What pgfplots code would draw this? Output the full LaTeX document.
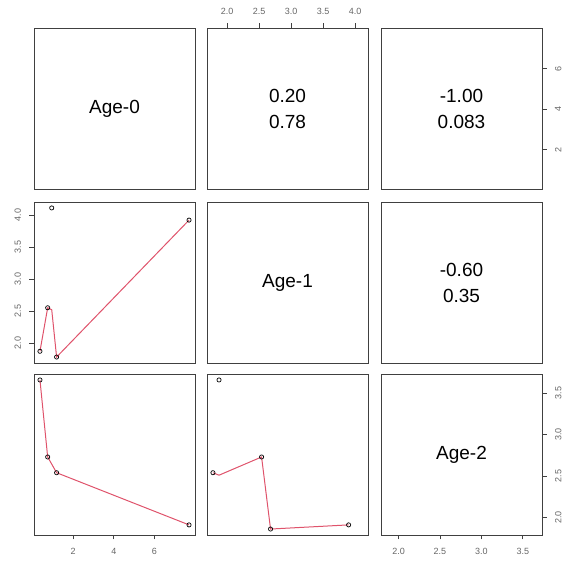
\documentclass[border=0pt]{standalone}
\usepackage{pgfplots}
\pgfplotsset{compat=1.18}
\usepackage{fontspec}
\setmainfont{Liberation Sans}
\definecolor{smooth}{HTML}{DF536B}
\tikzset{
  big/.style={font=\fontsize{19}{26}\selectfont, align=center},
  onedec/.style={/pgf/number format/fixed, /pgf/number format/fixed zerofill, /pgf/number format/precision=1},
}
\pgfplotsset{
  panel/.style={
    width=161pt, height=161pt, scale only axis,
    axis line style={black!75, line width=0.9pt},
    xtick=\empty, ytick=\empty,
    tick align=outside, major tick length=4.5pt,
    tick style={black!75, line width=0.8pt},
    tick label style={font=\fontsize{9}{10}\selectfont, text=black!60},
    xticklabel shift=5pt, yticklabel shift=5pt,
    /pgf/number format/assume math mode=true,
    anchor=south west, clip=true,
  },
  agezero x/.style={xmin=0.066, xmax=8.004},
  agezero y/.style={ymin=0.066, ymax=8.004},
  ageone x/.style={xmin=1.687, xmax=4.203},
  ageone y/.style={ymin=1.687, ymax=4.203},
  agetwo x/.style={xmin=1.788, xmax=3.732},
  agetwo y/.style={ymin=1.788, ymax=3.732},
  pts/.style={only marks, mark=o, mark size=2.1pt, mark options={black, line width=0.7pt}},
  sm/.style={no marks, color=smooth, line width=1pt},
}
\begin{document}
\begin{tikzpicture}
\useasboundingbox (0,0) rectangle (566pt,565pt);
% Row 1
\begin{axis}[panel, at={(34pt,376pt)}, agezero x, agezero y]
  \node[big] at (rel axis cs:0.5,0.5) {Age-0};
\end{axis}
\begin{axis}[panel, at={(207pt,376pt)}, ageone x, agezero y,
  xtick={2,2.5,3,3.5,4}, xtick pos=upper, xticklabel pos=upper,
  xticklabel style={onedec}]
  \node[big] at (rel axis cs:0.5,0.5) {0.20\\0.78};
\end{axis}
\begin{axis}[panel, at={(381pt,376pt)}, agetwo x, agezero y,
  ytick={2,4,6}, ytick pos=right, yticklabel pos=right,
  yticklabel style={rotate=90, anchor=north}]
  \node[big] at (rel axis cs:0.5,0.5) {-1.00\\0.083};
\end{axis}
% Row 2
\begin{axis}[panel, at={(34pt,202pt)}, agezero x, ageone y,
  ytick={2,2.5,3,3.5,4}, ytick pos=left, yticklabel pos=left,
  yticklabel style={rotate=90, anchor=south, onedec}]
  \addplot[sm] coordinates {(0.36,1.87) (0.74,2.55) (0.94,2.52) (1.18,1.78) (7.71,3.92)};
  \addplot[pts] coordinates {(0.36,1.87) (0.74,2.55) (0.94,4.11) (1.18,1.78) (7.71,3.92)};
\end{axis}
\begin{axis}[panel, at={(207pt,202pt)}, ageone x, ageone y]
  \node[big] at (rel axis cs:0.5,0.5) {Age-1};
\end{axis}
\begin{axis}[panel, at={(381pt,202pt)}, agetwo x, ageone y]
  \node[big] at (rel axis cs:0.5,0.5) {-0.60\\0.35};
\end{axis}
% Row 3
\begin{axis}[panel, at={(34pt,30pt)}, agezero x, agetwo y,
  xtick={2,4,6}, xtick pos=lower, xticklabel pos=lower]
  \addplot[sm] coordinates {(0.36,3.66) (0.74,2.73) (1.18,2.54) (7.71,1.91)};
  \addplot[pts] coordinates {(0.36,3.66) (0.74,2.73) (1.18,2.54) (7.71,1.91)};
\end{axis}
\begin{axis}[panel, at={(207pt,30pt)}, ageone x, agetwo y]
  \addplot[sm] coordinates {(1.78,2.54) (1.875,2.51) (2.54,2.73) (2.68,1.86) (3.90,1.91)};
  \addplot[pts] coordinates {(1.875,3.66) (1.78,2.54) (2.54,2.73) (2.68,1.86) (3.90,1.91)};
\end{axis}
\begin{axis}[panel, at={(381pt,30pt)}, agetwo x, agetwo y,
  xtick={2,2.5,3,3.5}, xtick pos=lower, xticklabel pos=lower,
  xticklabel style={onedec},
  ytick={2,2.5,3,3.5}, ytick pos=right, yticklabel pos=right,
  yticklabel style={rotate=90, anchor=north, onedec}]
  \node[big] at (rel axis cs:0.5,0.5) {Age-2};
\end{axis}
\end{tikzpicture}
\end{document}
